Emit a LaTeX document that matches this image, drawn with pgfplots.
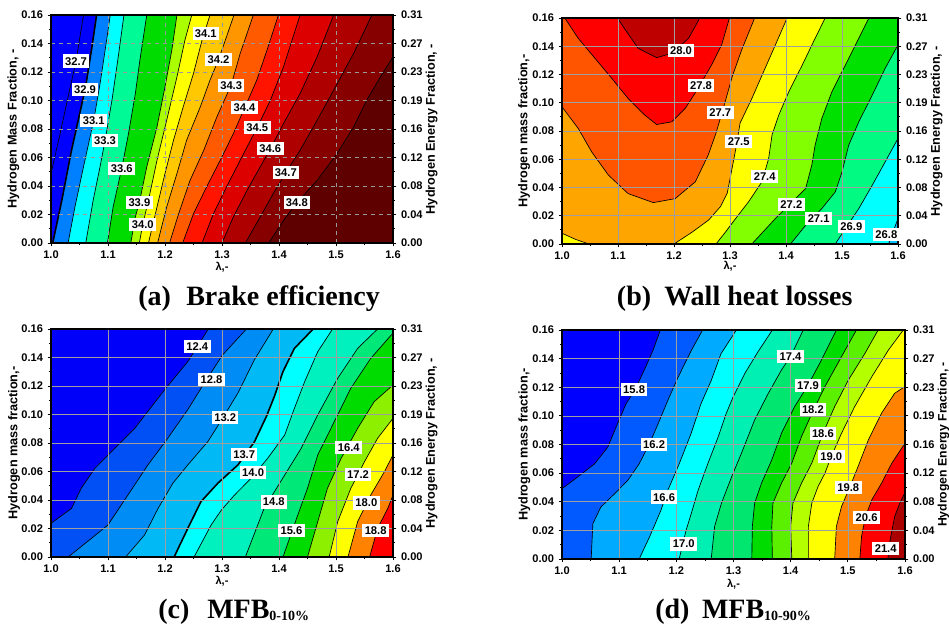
\documentclass[border=0pt]{standalone}
\usepackage{fontspec}
\setmainfont{Liberation Sans}
\newfontfamily\capfont{Liberation Serif}
\usepackage{pgfplots}
\pgfplotsset{compat=1.18}

% (a) brake efficiency bands
\definecolor{aB0}{RGB}{0,0,255}
\definecolor{aB1}{RGB}{0,128,255}
\definecolor{aB2}{RGB}{0,255,255}
\definecolor{aB3}{RGB}{0,250,150}
\definecolor{aB4}{RGB}{0,220,0}
\definecolor{aB5}{RGB}{170,255,0}
\definecolor{aB6}{RGB}{255,255,0}
\definecolor{aB7}{RGB}{255,200,0}
\definecolor{aB8}{RGB}{255,150,0}
\definecolor{aB9}{RGB}{255,90,0}
\definecolor{aB10}{RGB}{255,20,0}
\definecolor{aB11}{RGB}{220,0,0}
\definecolor{aB12}{RGB}{175,0,0}
\definecolor{aB13}{RGB}{135,0,0}
\definecolor{aB14}{RGB}{95,0,0}
% (b) wall heat losses
\definecolor{bOr}{RGB}{255,165,0}
\definecolor{bYe}{RGB}{255,255,0}
\definecolor{bYg}{RGB}{130,255,0}
\definecolor{bGr}{RGB}{0,225,0}
\definecolor{bSg}{RGB}{0,250,130}
\definecolor{bCy}{RGB}{0,255,255}
\definecolor{bLb}{RGB}{0,190,255}
\definecolor{bOrd}{RGB}{255,85,0}
\definecolor{bRe}{RGB}{255,0,0}
\definecolor{bDr}{RGB}{190,0,0}
% (c) MFB 0-10
\definecolor{cB0}{RGB}{0,0,250}
\definecolor{cB1}{RGB}{0,80,245}
\definecolor{cB2}{RGB}{0,140,245}
\definecolor{cB3}{RGB}{0,185,245}
\definecolor{cB4}{RGB}{0,255,255}
\definecolor{cB5}{RGB}{0,240,190}
\definecolor{cB6}{RGB}{0,232,120}
\definecolor{cB7}{RGB}{0,220,0}
\definecolor{cB8}{RGB}{140,240,0}
\definecolor{cB9}{RGB}{255,255,0}
\definecolor{cB10}{RGB}{255,130,0}
\definecolor{cB11}{RGB}{255,0,0}
% (d) MFB 10-90
\definecolor{dB0}{RGB}{0,0,255}
\definecolor{dB1}{RGB}{0,90,255}
\definecolor{dB2}{RGB}{0,170,255}
\definecolor{dB3}{RGB}{0,255,255}
\definecolor{dB4}{RGB}{0,240,180}
\definecolor{dB5}{RGB}{0,230,110}
\definecolor{dB6}{RGB}{0,220,0}
\definecolor{dB7}{RGB}{90,240,0}
\definecolor{dB8}{RGB}{180,255,0}
\definecolor{dB9}{RGB}{255,255,0}
\definecolor{dB10}{RGB}{255,130,0}
\definecolor{dB11}{RGB}{255,0,0}
\definecolor{dB12}{RGB}{170,0,0}

\pgfplotsset{
  panel/.style={
    scale only axis, xmin=1, xmax=1.6, ymin=0, ymax=0.16,
    xtick={1,1.1,1.2,1.3,1.4,1.5,1.6},
    ytick={0,0.02,0.04,0.06,0.08,0.1,0.12,0.14,0.16},
    minor x tick num=1, minor y tick num=1,
    xtick pos=left, ytick pos=left,
    tick align=outside, major tick length=2.5pt, minor tick length=1.5pt,
    every tick/.style={black, line width=0.6pt},
    axis on top, grid=major,
    grid style={gray!75, line width=0.5pt},
    axis line style={line width=1.2pt},
    /pgf/number format/assume math mode=true,
    tick label style={font=\bfseries\fontsize{8.3}{9}\selectfont},
    xticklabel style={/pgf/number format/.cd, fixed, fixed zerofill, precision=1},
    yticklabel style={/pgf/number format/.cd, fixed, fixed zerofill, precision=2},
    label style={font=\bfseries\fontsize{9.5}{11}\selectfont},
    xlabel={λ,-},
    xlabel style={font=\bfseries\fontsize{8.3}{9}\selectfont,
      at={(axis description cs:0.5,-0.105)}, anchor=center},
    ylabel style={at={(axis description cs:-0.11,0.5)}, anchor=center},
  },
  rpanel/.style={
    scale only axis, xmin=1, xmax=1.6, ymin=0, ymax=0.16,
    axis x line=none, axis y line*=right, clip=false,
    ytick={0,0.02,0.04,0.06,0.08,0.1,0.12,0.14,0.16},
    yticklabels={0.00,0.04,0.08,0.12,0.16,0.19,0.23,0.27,0.31},
    minor y tick num=1,
    tick align=outside, major tick length=2.5pt, minor tick length=1.5pt,
    every tick/.style={black, line width=0.6pt},
    axis line style={line width=1.2pt},
    tick label style={font=\bfseries\fontsize{8.3}{9}\selectfont},
    ylabel={Hydrogen Energy Fraction, -},
    label style={font=\bfseries\fontsize{9.5}{11}\selectfont},
    ylabel style={at={(axis description cs:1.113,0.5)}, anchor=center, rotate=0},
  },
  ct/.style={draw=black, line width=0.5pt, line join=round},
  ctk/.style={draw=black, line width=1.2pt, line join=round},
}
\tikzset{
  lbl/.style={fill=white, inner xsep=1.8pt, inner ysep=1.9pt, text height=6pt,
    text depth=0pt, font=\bfseries\fontsize{8.4}{9}\selectfont},
  capt/.style={anchor=base west, inner sep=0pt, font=\capfont\bfseries\fontsize{21}{25}\selectfont},
}

\begin{document}
\begin{tikzpicture}
\useasboundingbox (0,0) rectangle (711.75pt,468pt);

%% ---------------- (a) Brake efficiency ----------------
\begin{axis}[panel, at={(38.25pt,285.75pt)}, anchor=south west,
  width=256.5pt, height=171pt, grid style={dashed, gray!80, line width=0.45pt},
  ylabel={Hydrogen Mass Fraction, -}]
\addplot[fill=aB0, draw=none] coordinates {(1,0) (1.6,0) (1.6,0.16) (1,0.16)};
\addplot[ct, fill=aB0] coordinates {(1.000,0.0487) (1.016,0.0768) (1.030,0.1026) (1.044,0.1277) (1.057,0.16) (1.6,0.16) (1.6,0) (1,0)};
\addplot[ctk, fill=aB1] coordinates {(1.003,0) (1.019,0.0300) (1.036,0.0651) (1.060,0.1080) (1.071,0.1354) (1.080,0.16) (1.6,0.16) (1.6,0)};
\addplot[ct, fill=aB2] coordinates {(1.030,0) (1.042,0.0253) (1.057,0.0534) (1.075,0.0862) (1.086,0.1116) (1.095,0.1354) (1.104,0.16) (1.6,0.16) (1.6,0)};
\addplot[ct, fill=aB3] coordinates {(1.061,0) (1.074,0.0300) (1.086,0.0534) (1.095,0.0722) (1.107,0.1003) (1.118,0.1307) (1.128,0.16) (1.6,0.16) (1.6,0)};
\addplot[ct, fill=aB4] coordinates {(1.099,0) (1.109,0.0253) (1.124,0.0522) (1.136,0.0768) (1.148,0.1049) (1.156,0.1284) (1.168,0.16) (1.6,0.16) (1.6,0)};
\addplot[ct, fill=aB5] coordinates {(1.140,0) (1.148,0.0183) (1.155,0.0284) (1.168,0.0534) (1.186,0.0815) (1.200,0.1096) (1.212,0.1354) (1.221,0.16) (1.6,0.16) (1.6,0)};
\addplot[ct, fill=aB6] coordinates {(1.155,0) (1.161,0.0131) (1.171,0.0300) (1.186,0.0581) (1.203,0.0862) (1.221,0.1166) (1.235,0.1424) (1.247,0.16) (1.6,0.16) (1.6,0)};
\addplot[ct, fill=aB7] coordinates {(1.171,0) (1.186,0.0253) (1.200,0.0488) (1.215,0.0722) (1.232,0.0956) (1.250,0.1190) (1.265,0.1424) (1.279,0.16) (1.6,0.16) (1.6,0)};
\addplot[ct, fill=aB8] coordinates {(1.187,0) (1.203,0.0253) (1.221,0.0488) (1.238,0.0722) (1.262,0.0956) (1.279,0.1143) (1.294,0.1288) (1.308,0.1448) (1.321,0.16) (1.6,0.16) (1.6,0)};
\addplot[ct, fill=aB9] coordinates {(1.208,0) (1.224,0.0206) (1.244,0.0440) (1.268,0.0651) (1.291,0.0885) (1.316,0.1108) (1.332,0.1331) (1.355,0.16) (1.6,0.16) (1.6,0)};
\addplot[ct, fill=aB10] coordinates {(1.231,0) (1.250,0.0206) (1.273,0.0394) (1.297,0.0581) (1.320,0.0768) (1.340,0.0951) (1.361,0.1143) (1.379,0.1354) (1.399,0.16) (1.6,0.16) (1.6,0)};
\addplot[ct, fill=aB11] coordinates {(1.265,0) (1.285,0.0206) (1.308,0.0394) (1.332,0.0581) (1.362,0.0813) (1.385,0.1003) (1.408,0.1237) (1.437,0.16) (1.6,0.16) (1.6,0)};
\addplot[ct, fill=aB12] coordinates {(1.300,0) (1.320,0.0183) (1.344,0.0370) (1.367,0.0534) (1.385,0.0663) (1.408,0.0839) (1.437,0.1049) (1.467,0.1307) (1.496,0.16) (1.6,0.16) (1.6,0)};
\addplot[ct, fill=aB13] coordinates {(1.341,0) (1.367,0.0183) (1.390,0.0347) (1.412,0.0494) (1.437,0.0651) (1.467,0.0862) (1.496,0.1073) (1.531,0.1331) (1.563,0.16) (1.6,0.16) (1.6,0)};
\addplot[ct, fill=aB14] coordinates {(1.382,0) (1.408,0.0159) (1.431,0.0281) (1.467,0.0440) (1.502,0.0628) (1.531,0.0815) (1.554,0.1003) (1.578,0.1166) (1.600,0.1307) (1.6,0)};
\end{axis}
\begin{axis}[rpanel, at={(38.25pt,285.75pt)}, anchor=south west, width=256.5pt, height=171pt]
\node[lbl] at (axis cs:1.0439,0.1277) {32.7};
\node[lbl] at (axis cs:1.0597,0.1080) {32.9};
\node[lbl] at (axis cs:1.0749,0.0862) {33.1};
\node[lbl] at (axis cs:1.0948,0.0722) {33.3};
\node[lbl] at (axis cs:1.1241,0.0522) {33.6};
\node[lbl] at (axis cs:1.1551,0.0283) {33.9};
\node[lbl] at (axis cs:1.1610,0.0131) {34.0};
\node[lbl] at (axis cs:1.2716,0.1471) {34.1};
\node[lbl] at (axis cs:1.2939,0.1288) {34.2};
\node[lbl] at (axis cs:1.3161,0.1108) {34.3};
\node[lbl] at (axis cs:1.3395,0.0951) {34.4};
\node[lbl] at (axis cs:1.3618,0.0813) {34.5};
\node[lbl] at (axis cs:1.3846,0.0663) {34.6};
\node[lbl] at (axis cs:1.4121,0.0494) {34.7};
\node[lbl] at (axis cs:1.4314,0.0281) {34.8};
\end{axis}

%% ---------------- (b) Wall heat losses ----------------
\begin{axis}[panel, at={(421.5pt,285pt)}, anchor=south west,
  width=252pt, height=169.5pt,
  ylabel={Hydrogen mass fraction,-},
  ylabel style={at={(axis description cs:-0.113,0.5)}},
  xlabel style={at={(axis description cs:0.5,-0.10)}}]
\addplot[fill=bOr, draw=none] coordinates {(1,0) (1.6,0) (1.6,0.16) (1,0.16)};
\addplot[ct, fill=bYe] coordinates {(1.2,0) (1.232,0.0083) (1.262,0.0170) (1.283,0.0265) (1.295,0.0359) (1.302,0.0501) (1.310,0.0666) (1.318,0.0856) (1.339,0.1030) (1.360,0.1220) (1.381,0.1409) (1.402,0.16) (1.6,0.16) (1.6,0)};
\addplot[ct, fill=bYg] coordinates {(1.275,0) (1.292,0.0085) (1.310,0.0180) (1.333,0.0298) (1.357,0.0440) (1.369,0.0605) (1.375,0.0771) (1.387,0.0912) (1.405,0.1078) (1.429,0.1267) (1.452,0.1456) (1.470,0.16) (1.6,0.16) (1.6,0)};
\addplot[ct, fill=bGr] coordinates {(1.339,0) (1.381,0.0180) (1.411,0.0298) (1.435,0.0392) (1.446,0.0558) (1.452,0.0700) (1.464,0.0889) (1.482,0.1078) (1.506,0.1267) (1.530,0.1456) (1.548,0.16) (1.6,0.16) (1.6,0)};
\addplot[ct, fill=bSg] coordinates {(1.408,0) (1.435,0.0132) (1.464,0.0251) (1.488,0.0369) (1.5,0.0510) (1.512,0.0700) (1.530,0.0865) (1.554,0.1054) (1.577,0.1243) (1.6,0.1409) (1.6,0)};
\addplot[ct, fill=bCy] coordinates {(1.488,0) (1.506,0.0109) (1.530,0.0251) (1.554,0.0416) (1.577,0.0581) (1.6,0.0747) (1.6,0)};
\addplot[ct, fill=bLb] coordinates {(1.583,0) (1.6,0.0180) (1.6,0)};
\addplot[ct, fill=bYe] coordinates {(1.0,0.0076) (1.024,0.0033) (1.048,0) (1,0)};
\addplot[ct, fill=bOrd] coordinates {(1.0,0.0971) (1.029,0.0818) (1.053,0.0652) (1.083,0.0487) (1.118,0.0357) (1.163,0.0293) (1.202,0.0321) (1.238,0.0440) (1.261,0.0629) (1.275,0.0785) (1.289,0.0974) (1.304,0.1186) (1.321,0.1376) (1.344,0.16) (1,0.16)};
\addplot[ct, fill=bRe] coordinates {(1.005,0.16) (1.029,0.1456) (1.059,0.1314) (1.089,0.1172) (1.118,0.1030) (1.148,0.0912) (1.169,0.0846) (1.196,0.0865) (1.220,0.0960) (1.243,0.1101) (1.267,0.1267) (1.285,0.1409) (1.299,0.16)};
\addplot[ct, fill=bDr] coordinates {(1.099,0.16) (1.113,0.1517) (1.136,0.1385) (1.169,0.1319) (1.196,0.1350) (1.226,0.1456) (1.246,0.16)};
\end{axis}
\begin{axis}[rpanel, at={(421.5pt,285pt)}, anchor=south west, width=252pt, height=169.5pt,
  ylabel style={at={(axis description cs:1.115,0.5)}}]
\node[lbl] at (axis cs:1.2125,0.1368) {28.0};
\node[lbl] at (axis cs:1.2482,0.1125) {27.8};
\node[lbl] at (axis cs:1.2827,0.0934) {27.7};
\node[lbl] at (axis cs:1.3155,0.0726) {27.5};
\node[lbl] at (axis cs:1.3619,0.0477) {27.4};
\node[lbl] at (axis cs:1.4095,0.0277) {27.2};
\node[lbl] at (axis cs:1.4583,0.0182) {27.1};
\node[lbl] at (axis cs:1.5167,0.0123) {26.9};
\node[lbl] at (axis cs:1.5792,0.0065) {26.8};
\end{axis}

%% ---------------- (c) MFB 0-10 ----------------
\begin{axis}[panel, at={(38.25pt,50.25pt)}, anchor=south west,
  width=256.5pt, height=171pt,
  ylabel={Hydrogen mass fraction,-},
  ylabel style={at={(axis description cs:-0.108,0.5)}},
  xlabel style={at={(axis description cs:0.5,-0.108)}}]
\addplot[fill=cB0, draw=none] coordinates {(1,0) (1.6,0) (1.6,0.16) (1,0.16)};
\addplot[ct, fill=cB1] coordinates {(1.0,0.0236) (1.036,0.0341) (1.053,0.0482) (1.077,0.0622) (1.112,0.0763) (1.147,0.0903) (1.199,0.1172) (1.240,0.1371) (1.276,0.16) (1.6,0.16) (1.6,0) (1,0)};
\addplot[ct, fill=cB2] coordinates {(1.030,0) (1.071,0.0131) (1.100,0.0225) (1.135,0.0435) (1.170,0.0646) (1.203,0.0823) (1.240,0.1034) (1.269,0.1221) (1.301,0.1418) (1.343,0.16) (1.6,0.16) (1.6,0)};
\addplot[ct, fill=cB3] coordinates {(1.131,0) (1.164,0.0154) (1.188,0.0342) (1.214,0.0519) (1.240,0.0646) (1.275,0.0809) (1.301,0.0973) (1.328,0.1151) (1.357,0.1385) (1.390,0.16) (1.6,0.16) (1.6,0)};
\addplot[ctk, fill=cB4] coordinates {(1.216,0) (1.240,0.0201) (1.263,0.0388) (1.293,0.0519) (1.328,0.0646) (1.357,0.0809) (1.378,0.0987) (1.392,0.1128) (1.407,0.1301) (1.427,0.1464) (1.460,0.16) (1.6,0.16) (1.6,0)};
\addplot[ct, fill=cB5] coordinates {(1.251,0) (1.281,0.0225) (1.299,0.0330) (1.322,0.0435) (1.351,0.0552) (1.380,0.0692) (1.410,0.0856) (1.427,0.1043) (1.445,0.1230) (1.468,0.1441) (1.494,0.16) (1.6,0.16) (1.6,0)};
\addplot[ct, fill=cB6] coordinates {(1.341,0) (1.374,0.0342) (1.410,0.0575) (1.439,0.0763) (1.468,0.0997) (1.503,0.1254) (1.538,0.1464) (1.573,0.16) (1.6,0.16) (1.6,0)};
\addplot[ct, fill=cB7] coordinates {(1.407,0) (1.433,0.0295) (1.450,0.0482) (1.468,0.0716) (1.497,0.0950) (1.526,0.1184) (1.561,0.1394) (1.597,0.1558) (1.6,0.1567) (1.6,0)};
\addplot[ct, fill=cB8] coordinates {(1.450,0) (1.468,0.0248) (1.485,0.0482) (1.509,0.0692) (1.538,0.0903) (1.567,0.1090) (1.6,0.1207) (1.6,0)};
\addplot[ct, fill=cB9] coordinates {(1.488,0) (1.503,0.0248) (1.526,0.0482) (1.550,0.0669) (1.573,0.0833) (1.6,0.0973) (1.6,0)};
\addplot[ct, fill=cB10] coordinates {(1.521,0) (1.538,0.0248) (1.561,0.0435) (1.585,0.0599) (1.6,0.0716) (1.6,0)};
\addplot[ct, fill=cB11] coordinates {(1.559,0) (1.573,0.0201) (1.591,0.0342) (1.6,0.0435) (1.6,0)};
\end{axis}
\begin{axis}[rpanel, at={(38.25pt,50.25pt)}, anchor=south west, width=256.5pt, height=171pt]
\node[lbl] at (axis cs:1.2565,0.1474) {12.4};
\node[lbl] at (axis cs:1.2816,0.1244) {12.8};
\node[lbl] at (axis cs:1.3056,0.0982) {13.2};
\node[lbl] at (axis cs:1.3389,0.0718) {13.7};
\node[lbl] at (axis cs:1.3546,0.0594) {14.0};
\node[lbl] at (axis cs:1.3909,0.0386) {14.8};
\node[lbl] at (axis cs:1.4218,0.0185) {15.6};
\node[lbl] at (axis cs:1.5223,0.0767) {16.4};
\node[lbl] at (axis cs:1.5387,0.0580) {17.2};
\node[lbl] at (axis cs:1.5533,0.0379) {18.0};
\node[lbl] at (axis cs:1.5696,0.0185) {18.8};
\end{axis}

%% ---------------- (d) MFB 10-90 ----------------
\begin{axis}[panel, at={(421.5pt,48.75pt)}, anchor=south west,
  width=257.25pt, height=171.75pt,
  ylabel={Hydrogen mass fraction,-},
  xlabel style={at={(axis description cs:0.5,-0.109)}}]
\addplot[fill=dB0, draw=none] coordinates {(1,0) (1.6,0) (1.6,0.16) (1,0.16)};
\addplot[ct, fill=dB1] coordinates {(1.0,0.0491) (1.027,0.0572) (1.057,0.0665) (1.080,0.0781) (1.097,0.0944) (1.112,0.1084) (1.127,0.1177) (1.144,0.1321) (1.159,0.1456) (1.172,0.16) (1.6,0.16) (1.6,0) (1,0)};
\addplot[ct, fill=dB2] coordinates {(1.051,0) (1.054,0.0247) (1.068,0.0363) (1.092,0.0456) (1.115,0.0549) (1.135,0.0665) (1.153,0.0805) (1.168,0.0944) (1.185,0.1107) (1.203,0.1270) (1.226,0.1456) (1.246,0.16) (1.6,0.16) (1.6,0)};
\addplot[ct, fill=dB3] coordinates {(1.135,0) (1.153,0.0153) (1.173,0.0340) (1.185,0.0479) (1.205,0.0665) (1.226,0.0879) (1.243,0.1084) (1.261,0.1247) (1.278,0.1433) (1.305,0.16) (1.6,0.16) (1.6,0)};
\addplot[ct, fill=dB4] coordinates {(1.205,0) (1.217,0.02) (1.226,0.0316) (1.238,0.0479) (1.255,0.0665) (1.273,0.0851) (1.287,0.1014) (1.299,0.1130) (1.320,0.1298) (1.343,0.1449) (1.368,0.16) (1.6,0.16) (1.6,0)};
\addplot[ct, fill=dB5] coordinates {(1.261,0) (1.267,0.0228) (1.279,0.0391) (1.297,0.0577) (1.314,0.0740) (1.337,0.0972) (1.361,0.1158) (1.384,0.1321) (1.400,0.1416) (1.422,0.16) (1.6,0.16) (1.6,0)};
\addplot[ct, fill=dB6] coordinates {(1.332,0) (1.333,0.0228) (1.337,0.0391) (1.349,0.0530) (1.367,0.0693) (1.384,0.0879) (1.407,0.1065) (1.430,0.1212) (1.454,0.1391) (1.480,0.16) (1.6,0.16) (1.6,0)};
\addplot[ct, fill=dB7] coordinates {(1.368,0) (1.367,0.0228) (1.369,0.0391) (1.384,0.0530) (1.402,0.0670) (1.419,0.0856) (1.439,0.1033) (1.460,0.1205) (1.489,0.1414) (1.515,0.16) (1.6,0.16) (1.6,0)};
\addplot[ct, fill=dB8] coordinates {(1.402,0) (1.400,0.0228) (1.404,0.0391) (1.419,0.0530) (1.437,0.0670) (1.456,0.0874) (1.477,0.1065) (1.501,0.1251) (1.530,0.1437) (1.553,0.16) (1.6,0.16) (1.6,0)};
\addplot[ct, fill=dB9] coordinates {(1.431,0) (1.431,0.0228) (1.437,0.0391) (1.448,0.0507) (1.460,0.0600) (1.471,0.0716) (1.489,0.0879) (1.512,0.1065) (1.542,0.1274) (1.571,0.1460) (1.597,0.16) (1.6,0.16) (1.6,0)};
\addplot[ct, fill=dB10] coordinates {(1.477,0) (1.480,0.0228) (1.489,0.0367) (1.503,0.0498) (1.518,0.0647) (1.536,0.0833) (1.559,0.1019) (1.582,0.1158) (1.6,0.1205) (1.6,0)};
\addplot[ct, fill=dB11] coordinates {(1.521,0) (1.524,0.0158) (1.531,0.0298) (1.542,0.0414) (1.559,0.0530) (1.577,0.0670) (1.6,0.0809) (1.6,0)};
\addplot[ct, fill=dB12] coordinates {(1.570,0) (1.574,0.0135) (1.582,0.0298) (1.591,0.0391) (1.6,0.0465) (1.6,0)};
\end{axis}
\begin{axis}[rpanel, at={(421.5pt,48.75pt)}, anchor=south west, width=257.25pt, height=171.75pt,
  ylabel style={at={(axis description cs:1.1125,0.5)}, font=\bfseries\fontsize{9.2}{11}\selectfont}]
\node[lbl] at (axis cs:1.1261,0.1186) {15.8};
\node[lbl] at (axis cs:1.1611,0.0802) {16.2};
\node[lbl] at (axis cs:1.1786,0.0433) {16.6};
\node[lbl] at (axis cs:1.2130,0.0105) {17.0};
\node[lbl] at (axis cs:1.3998,0.1416) {17.4};
\node[lbl] at (axis cs:1.4302,0.1212) {17.9};
\node[lbl] at (axis cs:1.4389,0.1042) {18.2};
\node[lbl] at (axis cs:1.4564,0.0874) {18.6};
\node[lbl] at (axis cs:1.4710,0.0716) {19.0};
\node[lbl] at (axis cs:1.5008,0.0498) {19.8};
\node[lbl] at (axis cs:1.5329,0.0293) {20.6};
\node[lbl] at (axis cs:1.5662,0.0075) {21.4};
\end{axis}

%% ---------------- captions ----------------
\node[capt] at (103.5pt,238.5pt) {(a)};
\node[capt] at (139.5pt,238.5pt) {Brake efficiency};
\node[capt] at (462.5pt,238.5pt) {(b)};
\node[capt] at (498pt,238.5pt) {Wall heat losses};
\node[capt] at (118.5pt,3.75pt) {(c)};
\node[capt] at (155.25pt,3.75pt) {MFB\raisebox{-0.8pt}{\fontsize{10.5}{12}\selectfont 0-10\%}};
\node[capt] at (491.25pt,3.75pt) {(d)};
\node[capt] at (526.3pt,3.75pt) {MFB\raisebox{-0.8pt}{\fontsize{10.5}{12}\selectfont 10-90\%}};
\end{tikzpicture}
\end{document}
